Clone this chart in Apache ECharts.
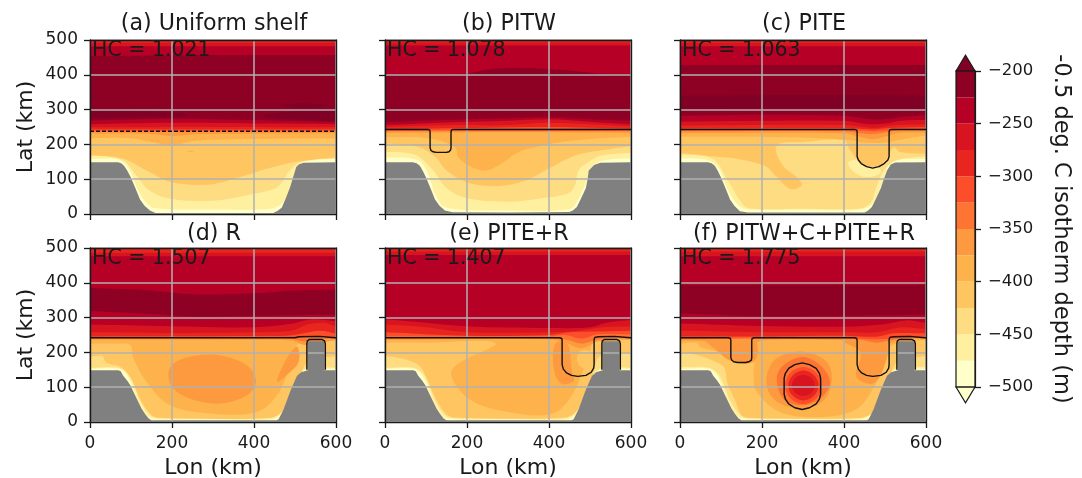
<!DOCTYPE html>
<html><head><meta charset="utf-8">
<script src="https://cdn.jsdelivr.net/npm/echarts@6/dist/echarts.min.js"></script>
<style>html,body{margin:0;padding:0;background:#fff}#c{width:1082px;height:478px}</style>
</head><body><div id="c"></div>
<script>
// ---- text ----
const panelTitles = ['(a) Uniform shelf','(b) PITW','(c) PITE','(d) R','(e) PITE+R','(f) PITW+C+PITE+R'];
const hcLabels = ['HC = 1.021','HC = 1.078','HC = 1.063','HC = 1.507','HC = 1.407','HC = 1.775'];
const colorbarTicks = [-500,-450,-400,-350,-300,-250,-200];
// ---- colour bands, from -500 m upward in 25 m steps; the last is the over-range colour ----
const bandLevels = [-500,-475,-450,-425,-400,-375,-350,-325,-300,-275,-250,-225];
const bandColors = ['#ffffc9','#fff0a0','#fedc82','#fec561','#feb24c','#fd9a40','#fd7433','#fc4e2a','#e8261f','#d7141f','#b60026','#8f0025','#800026'];

// ---- contour regions, painted in order: [depth level, outline as [lon km, lat km] ----
const contoursA = [
 [-500,[[0,0],[0,500],[600,500],[600,0],[300,-60]]],
 [-475,[[0,158],[70,156],[95,130],[120,62],[145,24],[170,15],[300,13],[440,15],[470,32],[492,85],[510,140],[530,155],[600,158]]],
 [-450,[[0,170],[81,154],[110,115],[146,67],[200,43],[301,38],[399,58],[456,77],[488,125],[513,149],[600,159]]],
 [-425,[[0,168],[81,159],[138,125],[200,91],[293,85],[366,106],[431,130],[497,149],[600,163]]],
 [-400,[[0,218],[100,218],[160,205],[200,197],[250,210],[350,215],[600,218]]],
 [-400,[[235,180],[245,182],[255,180],[245,178]]],
 [-375,[[0,231],[150,230],[200,224],[260,229],[600,232]]],
 [-350,[[0,236],[600,236]]],
 [-325,[[0,239],[600,239]]],
 [-300,[[0,243],[600,243]]],
 [-275,[[0,249],[300,250],[600,249]]],
 [-250,[[0,258],[200,262],[400,260],[600,258]]],
 [-225,[[0,269],[200,274],[400,270],[600,264]]],
 [-200,[[-20,300],[100,297],[220,290],[240,282],[120,278],[-20,280]]],
 [-200,[[420,280],[500,295],[620,298],[620,272],[520,270]]],
 [-200,[[465,312],[520,318],[580,312],[520,305]]],
 [-250,[[0,454],[300,457],[600,457]]],
 [-275,[[0,482],[600,482]]],
 [-300,[[0,492],[600,492]]]
];
const contoursB = [
 [-500,[[0,0],[0,500],[600,500],[600,0],[300,-60]]],
 [-475,[[0,163],[80,155],[105,115],[125,50],[150,18],[300,10],[450,14],[468,35],[490,90],[505,135],[530,153],[600,160]]],
 [-450,[[0,178],[73,170],[114,130],[150,75],[200,45],[301,35],[383,45],[448,60],[464,85],[472,125],[497,150],[529,168],[600,175]]],
 [-425,[[0,202],[81,193],[122,165],[150,125],[204,90],[277,80],[342,96],[407,135],[464,168],[529,183],[600,195]]],
 [-400,[[0,221],[110,217],[171,192],[179,163],[212,134],[248,125],[289,149],[326,178],[383,197],[464,212],[600,222]]],
 [-375,[[0,233],[300,235],[600,233]]],
 [-350,[[0,238],[600,238]]],
 [-325,[[0,241],[600,241]]],
 [-300,[[0,244],[250,248],[400,250],[600,245]]],
 [-275,[[0,250],[150,255],[300,256],[400,262],[600,252]]],
 [-250,[[0,256],[150,263],[300,268],[400,272],[500,265],[600,258]]],
 [-225,[[0,264],[150,270],[300,275],[400,278],[500,272],[600,268]]],
 [-250,[[0,403],[200,404],[250,415],[320,420],[450,412],[520,404],[600,403]]],
 [-275,[[0,484],[600,484]]],
 [-300,[[0,493],[600,493]]]
];
const contoursC = [
 [-500,[[0,0],[0,500],[600,500],[600,0],[300,-60]]],
 [-475,[[0,160],[70,154],[95,130],[120,62],[145,22],[170,13],[300,12],[440,13],[470,30],[492,85],[510,140],[530,155],[600,158]]],
 [-450,[[0,170],[80,158],[115,100],[150,32],[170,16],[300,15],[440,16],[465,32],[480,80],[500,130],[530,155],[600,165]]],
 [-475,[[411,150],[420,125],[445,108],[470,108],[490,120],[480,140],[450,155]]],
 [-425,[[0,175],[81,165],[138,159],[195,144],[212,135],[236,106],[269,72],[297,82],[289,101],[248,144],[236,197],[301,207],[399,212],[415,183],[440,149],[472,135],[501,154],[521,192],[537,178],[600,173]]],
 [-400,[[0,222],[300,220],[420,212],[450,205],[500,205],[530,212],[600,225]]],
 [-375,[[0,232],[400,232],[430,224],[470,215],[500,222],[530,232],[600,234]]],
 [-350,[[0,238],[400,238],[440,232],[470,230],[500,234],[530,240],[600,240]]],
 [-325,[[0,241],[400,242],[440,240],[470,238],[500,240],[530,243],[600,243]]],
 [-300,[[0,246],[400,247],[440,245],[470,243],[510,247],[600,250]]],
 [-275,[[0,254],[400,256],[450,250],[480,248],[520,255],[600,258]]],
 [-250,[[0,266],[400,268],[460,258],[500,260],[540,268],[600,270]]],
 [-225,[[0,282],[200,285],[400,282],[470,272],[510,274],[550,280],[600,284]]],
 [-200,[[0,302],[300,304],[600,302]]],
 [-225,[[0,340],[300,342],[600,340]]],
 [-250,[[0,428],[600,428]]],
 [-275,[[0,482],[600,482]]],
 [-300,[[0,492],[600,492]]]
];
const contoursD = [
 [-500,[[0,0],[0,500],[600,500],[600,0],[300,-60]]],
 [-475,[[0,153],[70,153],[92,132],[118,60],[142,15],[170,8],[300,7],[445,8],[468,25],[490,75],[508,130],[530,152],[600,153]]],
 [-450,[[0,156],[70,156],[96,134],[122,62],[148,18],[170,11],[300,10],[440,11],[465,28],[488,78],[505,132],[530,155],[600,156]]],
 [-425,[[0,188],[30,190],[40,170],[75,158],[100,125],[125,60],[150,20],[170,12],[440,12],[470,32],[490,80],[510,120],[530,170],[600,190]]],
 [-400,[[0,225],[60,225],[98,221],[106,183],[138,115],[195,48],[301,24],[407,29],[456,77],[480,135],[505,221],[530,232],[600,232]]],
 [-375,[[191,135],[203,168],[252,190],[326,190],[387,159],[405,115],[383,77],[317,53],[244,67],[203,96]]],
 [-375,[[505,216],[480,183],[456,115],[480,135],[509,173]]],
 [-375,[[0,236],[400,236],[490,234],[520,222],[550,222],[600,236]]],
 [-350,[[0,240],[400,240],[490,240],[520,232],[560,238],[600,240]]],
 [-325,[[0,243],[500,243],[525,244],[600,244]]],
 [-300,[[0,246],[400,247],[480,248],[520,255],[560,262],[600,255]]],
 [-275,[[0,258],[200,256],[400,258],[490,262],[530,280],[570,285],[600,275]]],
 [-250,[[0,280],[200,275],[400,272],[490,282],[540,295],[600,290]]],
 [-225,[[0,319],[150,310],[250,303],[400,305],[600,308]]],
 [-250,[[0,385],[150,378],[250,367],[400,370],[500,378],[600,380]]],
 [-275,[[0,476],[600,476]]],
 [-300,[[0,486],[600,486]]]
];
const contoursE = [
 [-500,[[0,0],[0,500],[600,500],[600,0],[300,-60]]],
 [-475,[[0,153],[70,153],[92,132],[118,60],[142,15],[170,8],[300,7],[445,8],[468,25],[490,75],[508,130],[530,152],[600,153]]],
 [-450,[[0,156],[70,156],[96,134],[122,62],[148,18],[170,11],[300,10],[440,11],[465,28],[488,78],[505,132],[530,155],[600,156]]],
 [-425,[[0,190],[50,180],[85,160],[100,130],[125,65],[150,22],[170,13],[440,13],[470,35],[490,85],[505,130],[525,190],[600,200]]],
 [-400,[[0,228],[100,228],[269,226],[163,149],[204,67],[301,29],[407,24],[456,77],[497,192],[513,231],[600,236]]],
 [-425,[[472,200],[470,170],[490,150],[505,155],[507,195],[490,207]]],
 [-375,[[415,225],[412,150],[430,110],[460,118],[455,150],[445,225]]],
 [-375,[[0,236],[400,238],[440,228],[480,212],[520,232],[600,238]]],
 [-350,[[0,240],[400,241],[445,236],[480,225],[520,238],[600,242]]],
 [-325,[[0,246],[400,246],[440,250],[480,240],[520,252],[600,252]]],
 [-300,[[0,258],[200,248],[400,250],[450,258],[530,260],[600,262]]],
 [-275,[[0,280],[100,272],[200,258],[400,258],[470,262],[530,272],[600,275]]],
 [-250,[[0,295],[200,275],[400,270],[500,272],[540,285],[600,293]]],
 [-275,[[0,480],[600,480]]],
 [-300,[[0,490],[600,490]]]
];
const contoursF = [
 [-500,[[0,0],[0,500],[600,500],[600,0],[300,-60]]],
 [-475,[[0,153],[70,153],[92,132],[118,60],[142,15],[170,8],[300,7],[445,8],[468,25],[490,75],[508,130],[530,152],[600,153]]],
 [-450,[[0,158],[70,156],[96,134],[122,62],[148,18],[170,11],[300,10],[440,11],[465,28],[488,78],[505,132],[530,155],[600,158]]],
 [-425,[[0,202],[50,190],[100,165],[110,150],[115,115],[135,60],[150,20],[170,12],[440,12],[470,28],[490,80],[510,120],[528,170],[600,190]]],
 [-400,[[0,225],[40,228],[50,215],[100,200],[140,180],[179,183],[179,135],[187,87],[244,29],[342,14],[431,38],[480,115],[505,183],[517,221],[600,235]]],
 [-375,[[60,240],[90,205],[125,175],[175,170],[190,200],[180,240],[120,240]]],
 [-375,[[400,232],[440,200],[430,130],[470,110],[495,150],[505,225],[470,240]]],
 [-375,[[212,135],[236,183],[301,202],[358,173],[370,115],[350,62],[301,38],[244,53],[216,87]]],
 [-350,[[236,125],[252,163],[301,187],[346,159],[366,111],[342,67],[297,48],[252,67]]],
 [-325,[[256,105],[268,140],[301,158],[334,140],[346,105],[334,70],[301,52],[268,70]]],
 [-300,[[264,105],[274,133],[301,148],[328,133],[338,105],[328,77],[301,62],[274,77]]],
 [-275,[[273,105],[281,126],[301,135],[321,126],[329,105],[321,84],[301,75],[281,84]]],
 [-375,[[0,234],[60,232],[120,222],[180,225],[200,235],[400,235],[440,230],[480,210],[510,225],[540,238],[600,238]]],
 [-350,[[0,238],[400,240],[440,236],[480,228],[520,236],[600,242]]],
 [-325,[[0,241],[400,243],[480,238],[600,246]]],
 [-300,[[0,246],[200,246],[400,248],[480,245],[520,255],[600,255]]],
 [-275,[[0,262],[200,258],[400,258],[480,258],[540,272],[600,268]]],
 [-250,[[0,283],[200,276],[400,274],[490,280],[550,292],[600,285]]],
 [-225,[[0,312],[200,304],[400,305],[600,308]]],
 [-250,[[0,394],[600,394]]],
 [-275,[[0,476],[600,476]]],
 [-300,[[0,490],[600,490]]]
];
// ---- land ----
const landA = [[0,0],[0,149],[68,149],[76,146],[83,139],[91,124],[99,106],[110,76],[122,42],[133,24],[146,10],[160,3],[447,3],[458,9],[468,19],[478,47],[488,77],[496,108],[503,135],[510,143],[521,147],[600,149],[600,0]];
const landB = [[0,0],[0,149],[68,149],[77,146],[85,139],[92,124],[100,105],[111,74],[122,42],[133,24],[146,10],[165,5],[300,4],[450,6],[459,11],[468,20],[479,47],[490,75],[494,100],[497,125],[510,141],[525,147],[600,149],[600,0]];
const landC = [[0,0],[0,149],[68,149],[77,146],[85,139],[92,124],[100,105],[111,74],[122,42],[133,23],[146,8],[165,4],[450,4],[459,10],[468,20],[479,47],[490,75],[497,100],[505,125],[514,142],[525,148],[600,149],[600,0]];
const landLower = [[0,0],[0,149],[69,149],[75,146],[81,133],[90,120],[98,106],[110,77],[126,38],[134,24],[143,10],[150,5],[455,5],[460,8],[472,36],[488,87],[497,112],[505,133],[515,143],[531,149],[531,232],[572,232],[572,149],[600,149],[600,0]];
// ---- ice-front / bathymetry outlines ----
const seamount = [[529,150],[529,225],[530,233],[535,237],[566,237],[572,233],[574,225],[574,150]];
const cavity = [[254,80],[257,66],[265,52],[280,41],[298,36],[316,41],[332,52],[340,66],[343,80],[343,126],[340,140],[332,154],[316,165],[298,170],[280,165],[265,154],[257,140],[254,126],[254,80]];
const shelfA = [[0,238],[600,238]];
const shelfB = [[0,243],[105,243],[109,241],[110,236],[110,190],[112,183],[117,179],[125,177],[150,177],[156,179],[160,184],[161,190],[161,236],[162,241],[166,243],[600,243]];
const shelfC = [[0,243],[426,243],[431,241],[432,236],[432,165],[435,155],[442,145],[455,136],[470,132],[485,136],[498,145],[507,155],[510,165],[510,236],[511,241],[516,243],[600,243]];
const shelfD = [[0,242],[500,242],[510,245],[560,246],[590,243],[600,242]];
const shelfE = [[0,242],[426,242],[431,240],[432,235],[432,165],[435,152],[443,141],[455,134],[470,131],[490,134],[503,143],[509,155],[510,165],[510,238],[512,243],[520,245],[560,246],[590,243],[600,242]];
const shelfF = [[0,242],[118,242],[123,240],[124,235],[124,185],[126,178],[131,173],[140,171],[160,171],[168,173],[174,178],[175,185],[175,235],[176,240],[181,242],[426,242],[431,240],[432,235],[432,165],[435,152],[443,141],[455,134],[470,131],[490,134],[503,143],[509,155],[510,165],[510,238],[512,243],[520,245],[560,246],[590,243],[600,242]];

const panelContours = [contoursA,contoursB,contoursC,contoursD,contoursE,contoursF];
const panelLand = [landA,landB,landC,landLower,landLower,landLower];
const panelOutlines = [[shelfA],[shelfB],[shelfC],[shelfD,seamount],[shelfE,seamount],[shelfF,seamount,cavity]];

const FONT = 'DejaVu Sans';
const lefts = [90,385,680], tops = [40,248], titleTops = [8,218], W = 246, H = 174;
const INK = '#1a1a1a', GRID = '#b0b0b0';
const bandColor = v => bandColors[(v+500)/25];

function region(pts){
  const first = pts[0], last = pts[pts.length-1];
  if (first[0]===0 && last[0]===600 && pts.length>1 && first[1]>0)
    return [[-60,first[1]],...pts,[660,last[1]],[660,600],[-60,600]];
  return pts;
}
function polyItem(list, colorOf, smooth){
  return function(params, api){
    const item = list[params.dataIndex];
    const outline = colorOf ? region(item[1]) : item;
    return {type:'polygon', silent:true,
      shape:{points: outline.map(p=>api.coord(p)), smooth},
      style:{fill: colorOf ? colorOf(item[0]) : '#808080'}};
  };
}
const grids=[],xAxes=[],yAxes=[],series=[],titles=[];
panelTitles.forEach((t,i)=>{
  const col=i%3,row=Math.floor(i/3),L=lefts[col],T=tops[row];
  grids.push({left:L,top:T,width:W,height:H,containLabel:false,outerBoundsMode:'none'});
  const axLine={lineStyle:{color:INK,width:1.4}};
  const tick={show:true,length:6,inside:false,lineStyle:{color:INK,width:1.3}};
  const xb={gridIndex:i,type:'value',min:0,max:600,interval:200,position:'bottom',z:4,
    axisLine:{show:true,onZero:false,...axLine},axisTick:tick,
    axisLabel:{show:row===1,fontFamily:FONT,fontSize:17,color:INK,margin:13,showMinLabel:true,showMaxLabel:true},
    splitLine:{show:true,lineStyle:{color:GRID,width:1.5}}};
  if(row===1){xb.name='Lon (km)';xb.nameLocation='middle';xb.nameGap=35;xb.nameTextStyle={fontFamily:FONT,fontSize:22,color:INK};}
  xAxes.push(xb);
  xAxes.push({gridIndex:i,type:'value',min:0,max:600,position:'top',z:4,axisLine:{show:true,onZero:false,...axLine},axisTick:{show:false},axisLabel:{show:false},splitLine:{show:false}});
  const yl={gridIndex:i,type:'value',min:0,max:500,interval:100,position:'left',z:4,
    axisLine:{show:true,onZero:false,...axLine},axisTick:tick,
    axisLabel:{show:col===0,fontFamily:FONT,fontSize:17,color:INK,margin:12,showMinLabel:true,showMaxLabel:true},
    splitLine:{show:true,lineStyle:{color:GRID,width:1.5}}};
  if(col===0){yl.name='Lat (km)';yl.nameLocation='middle';yl.nameGap=53;yl.nameRotate=90;yl.nameTextStyle={fontFamily:FONT,fontSize:22,color:INK};}
  yAxes.push(yl);
  yAxes.push({gridIndex:i,type:'value',min:0,max:500,position:'right',z:4,axisLine:{show:true,onZero:false,...axLine},axisTick:{show:false},axisLabel:{show:false},splitLine:{show:false}});
  const xi=2*i,yi=2*i;
  const cs=panelContours[i];
  series.push({type:'custom',xAxisIndex:xi,yAxisIndex:yi,clip:true,z:2,silent:true,
    data:cs.map(c=>[c[1][0][0],c[1][0][1]]),renderItem:polyItem(cs,bandColor,0.35),animation:false});
  series.push({type:'custom',xAxisIndex:xi,yAxisIndex:yi,clip:true,z:3,silent:true,
    data:[[0,0]],renderItem:polyItem([panelLand[i]],null,0),animation:false});
  panelOutlines[i].forEach(o=>{
    series.push({type:'custom',xAxisIndex:xi,yAxisIndex:yi,z:6,silent:true,animation:false,clip:true,
      data:[o[0]],
      renderItem:(p,api)=>({type:'polyline',shape:{points:o.map(q=>api.coord(q))},
        style:{fill:'none',stroke:'#111',lineWidth:1.4,lineDash:i===0?[4,2]:null,lineJoin:'round'}})});
  });
  titles.push({text:t,left:L+W/2-4,top:titleTops[row],textAlign:'center',textStyle:{fontFamily:FONT,fontSize:22.2,fontWeight:'normal',color:INK}});
  titles.push({text:hcLabels[i],left:L+2,top:T,padding:0,z:8,textStyle:{fontFamily:FONT,fontSize:20.5,fontWeight:'normal',color:INK,lineHeight:22}});
});
// ---- colour bar ----
const cbi=6;
grids.push({left:956,top:71,width:19,height:316,outerBoundsMode:'none'});
xAxes.push({gridIndex:cbi,type:'value',min:0,max:1,show:false});
yAxes.push({gridIndex:cbi,type:'value',min:-500,max:-200,interval:50,position:'right',z:4,
  axisLine:{show:true,onZero:false,lineStyle:{color:INK,width:1.2}},axisTick:{show:true,length:6,lineStyle:{color:INK,width:1.3}},splitLine:{show:false},
  axisLabel:{fontFamily:FONT,fontSize:16.5,color:INK,margin:13,showMinLabel:true,showMaxLabel:true,formatter:v=>colorbarTicks.includes(v)?String(v).replace('-','\u2212'):''},
  name:'-0.5 deg. C isotherm depth (m)',nameLocation:'middle',nameGap:74,nameRotate:-90,nameTextStyle:{fontFamily:FONT,fontSize:22.5,color:INK}});
series.push({type:'custom',xAxisIndex:xAxes.length-1,yAxisIndex:yAxes.length-1,z:2,silent:true,animation:false,clip:false,
  data:bandLevels.map(v=>[0,v]),
  renderItem:(p,api)=>{const v=api.value(1);const a=api.coord([0,v]),b=api.coord([1,v+25]);
    return {type:'rect',shape:{x:a[0],y:b[1],width:b[0]-a[0],height:a[1]-b[1]},style:{fill:bandColor(v)}};}});
const capTop=[[0,-200],[0.5,-185],[1,-200]], capBottom=[[0,-500],[0.5,-515],[1,-500]], barEdge=[[0,-500],[0,-200],[1,-200],[1,-500],[0,-500]];
[[capTop,bandColors[12]],[capBottom,'#ffffcc'],[barEdge,'none']].forEach(([pts,fill])=>{
  series.push({type:'custom',xAxisIndex:xAxes.length-1,yAxisIndex:yAxes.length-1,z:3,silent:true,animation:false,clip:false,data:[[0,0]],
    renderItem:(p,api)=>({type:'polygon',shape:{points:pts.map(q=>api.coord(q))},style:{fill,stroke:INK,lineWidth:1.2}})});
});
const chart=echarts.init(document.getElementById('c'),null,{renderer:'canvas'});
chart.setOption({backgroundColor:'#fff',animation:false,title:titles,grid:grids,xAxis:xAxes,yAxis:yAxes,series});
</script></body></html>
